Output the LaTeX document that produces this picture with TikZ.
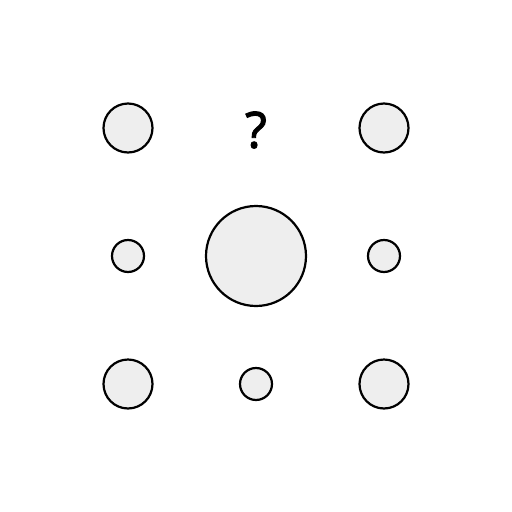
\documentclass[tikz,border=0pt]{standalone}
\usepackage{fontspec}
\setmainfont{DejaVu Sans}
\newfontfamily\qfont[FakeBold=1.8]{Noto Sans}
\definecolor{cfill}{HTML}{EEEEEE}
\begin{document}
\begin{tikzpicture}[x=1pt,y=-1pt,
  dot/.style={circle,draw=black,fill=cfill,line width=2.2pt,inner sep=0pt,minimum size=#1}]
\useasboundingbox[fill=white] (0,0) rectangle (512,512);
\node[dot=49pt] (a) at (128,128) {};
\node[font=\qfont\fontsize{50}{54}\selectfont] (q) at (256,130) {?};
\node[dot=49pt] (c) at (384,128) {};
\node[dot=32pt] (d) at (128,256) {};
\node[dot=100pt] (e) at (256,256) {};
\node[dot=32pt] (f) at (384,256) {};
\node[dot=49pt] (g) at (128,384) {};
\node[dot=32pt] (h) at (256,384) {};
\node[dot=49pt] (i) at (384,384) {};
\end{tikzpicture}
\end{document}
